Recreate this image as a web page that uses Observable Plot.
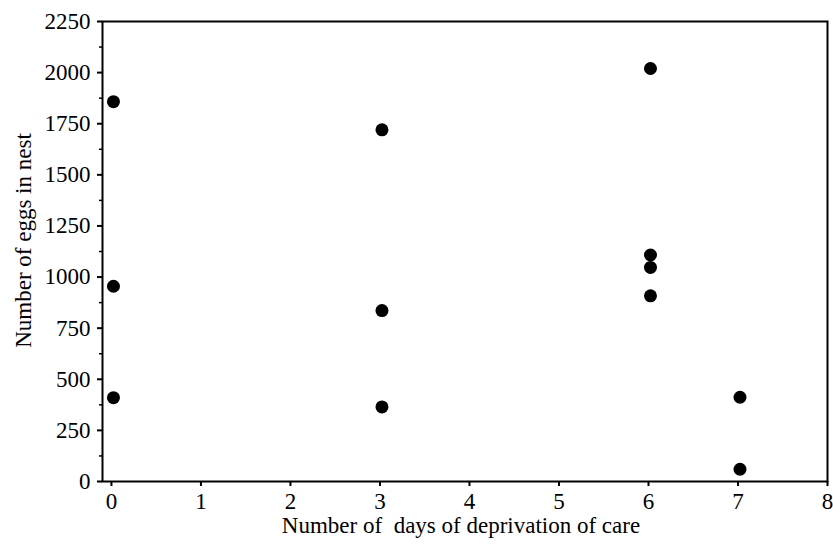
<!DOCTYPE html>
<html><head><meta charset="utf-8">
<script src="https://cdn.jsdelivr.net/npm/d3@7"></script>
<script src="https://cdn.jsdelivr.net/npm/@observablehq/plot@0.6"></script>
<style>html,body{margin:0;padding:0;background:#fff} svg{display:block}</style>
</head><body><div id="chart"></div>
<script>
const days = [0, 0, 0, 3, 3, 3, 6, 6, 6, 6, 7, 7];
const eggs = [1858, 955, 410, 1720, 836, 365, 2020, 1108, 1047, 908, 412, 60];
const xTicks = [0, 1, 2, 3, 4, 5, 6, 7, 8];
const yTicks = [0, 250, 500, 750, 1000, 1250, 1500, 1750, 2000, 2250];
const yMinorTicks = [125, 375, 625, 875, 1125, 1375, 1625, 1875, 2125];
const xTitle = "Number of\u00a0 days of deprivation of care";
const yTitle = "Number of eggs in nest";

const data = days.map((d, i) => ({days: d, eggs: eggs[i]}));

const chart = Plot.plot({
  width: 833, height: 545,
  marginLeft: 102, marginRight: 6, marginTop: 21, marginBottom: 64,
  style: {fontFamily: "'Liberation Serif', 'Times New Roman', serif", fontSize: "23px", color: "#000", background: "#fff"},
  x: {domain: [-0.1, 8]},
  y: {domain: [0, 2250]},
  marks: [
    Plot.frame({stroke: "#000", strokeWidth: 2}),
    Plot.axisY({ticks: yTicks, tickFormat: d3.format("d"), tickSize: 5, tickPadding: 7, label: null, strokeWidth: 2, fontSize: 23}),
    Plot.axisY({ticks: yMinorTicks, tickSize: 3, tickFormat: () => "", label: null, strokeWidth: 1.5}),
    Plot.axisX({ticks: xTicks, tickFormat: d3.format("d"), tickSize: 5, tickPadding: 6, label: null, strokeWidth: 2, fontSize: 23}),
    Plot.dot(data, {x: "days", y: "eggs", r: 6.5, fill: "#000", stroke: "none", dx: 2}),
    Plot.text([xTitle], {frameAnchor: "bottom", text: d => d, textAnchor: "middle", lineAnchor: "middle", dy: 44, dx: -4, fontSize: 23}),
    Plot.text([yTitle], {frameAnchor: "left", text: d => d, rotate: -90, textAnchor: "middle", lineAnchor: "middle", dx: -79, dy: -11, fontSize: 23})
  ]
});
document.getElementById("chart").appendChild(chart);
</script>
</body></html>
